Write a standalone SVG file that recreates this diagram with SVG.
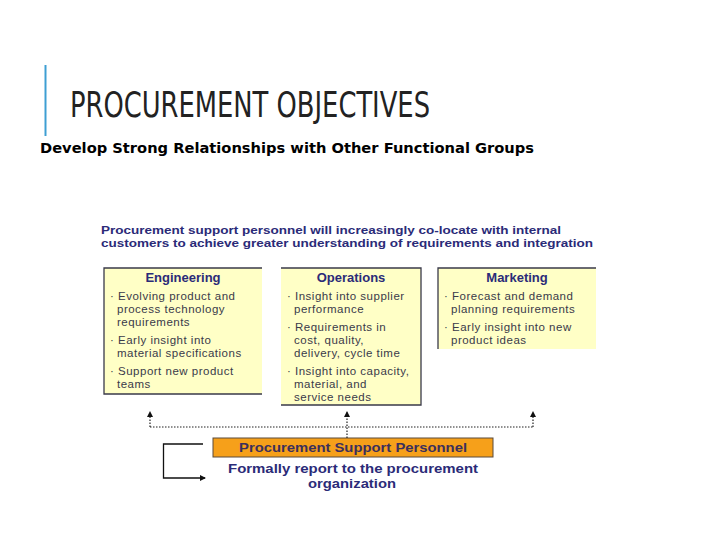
<svg xmlns="http://www.w3.org/2000/svg" width="720" height="540" viewBox="0 0 720 540">
<style>
.box{fill:#FFFFC6;stroke:none}
.edge{stroke:#3a3a4a;stroke-width:1.3;fill:none}
.hdr{font-family:"Liberation Sans",Arial,sans-serif;font-weight:bold;font-size:11.5px;fill:#2B2B78}
.head{font-family:"Liberation Sans",Arial,sans-serif;font-weight:bold;font-size:13px;fill:#2B2B78;text-anchor:middle}
.bul{font-family:"Liberation Sans",Arial,sans-serif;font-size:11.5px;letter-spacing:0.5px;fill:#3a3a4a}
.dot{stroke:#222;stroke-width:1.2;stroke-dasharray:1.5 1.5;fill:none}
</style>
<defs>
<marker id="ah" viewBox="0 0 6 6" refX="5" refY="3" markerWidth="6" markerHeight="6" orient="auto" markerUnits="userSpaceOnUse">
<path d="M0,0 L6,3 L0,6 z" fill="#111"/>
</marker>
</defs>
<rect width="720" height="540" fill="#fff"/>
<g id="title">
<line x1="45.5" y1="65" x2="45.5" y2="136" stroke="#3E9FD3" stroke-width="2"/>
<text x="70" y="117" font-family="DejaVu Sans Condensed,'DejaVu Sans',sans-serif" font-stretch="condensed" font-size="36" fill="#222" textLength="360" lengthAdjust="spacingAndGlyphs">PROCUREMENT OBJECTIVES</text>
<text x="40" y="153" font-family="'DejaVu Sans',sans-serif" font-weight="bold" font-size="14.5" fill="#000" textLength="494" lengthAdjust="spacingAndGlyphs">Develop Strong Relationships with Other Functional Groups</text>
</g>
<g id="intro">
<text class="hdr" x="101" y="234" textLength="460" lengthAdjust="spacingAndGlyphs">Procurement support personnel will increasingly co-locate with internal</text>
<text class="hdr" x="101" y="247" textLength="492" lengthAdjust="spacingAndGlyphs">customers to achieve greater understanding of requirements and integration</text>
</g>
<g id="engineering">
<rect class="box" x="104" y="268" width="158" height="126"/>
<path class="edge" d="M262,268 H104 V394 H262"/>
<text class="head" x="183" y="282">Engineering</text>
<text class="bul" x="110" y="300">· Evolving product and</text>
<text class="bul" x="117" y="313">process technology</text>
<text class="bul" x="117" y="326">requirements</text>
<text class="bul" x="110" y="344">· Early insight into</text>
<text class="bul" x="117" y="357">material specifications</text>
<text class="bul" x="110" y="375">· Support new product</text>
<text class="bul" x="117" y="388">teams</text>
</g>
<g id="operations">
<rect class="box" x="281" y="268" width="140" height="137"/>
<path class="edge" d="M281,268 H421 V405 H281"/>
<text class="head" x="351" y="282">Operations</text>
<text class="bul" x="287" y="300">· Insight into supplier</text>
<text class="bul" x="294" y="313">performance</text>
<text class="bul" x="287" y="331">· Requirements in</text>
<text class="bul" x="294" y="344">cost, quality,</text>
<text class="bul" x="294" y="357">delivery, cycle time</text>
<text class="bul" x="287" y="375">· Insight into capacity,</text>
<text class="bul" x="294" y="388">material, and</text>
<text class="bul" x="294" y="401">service needs</text>
</g>
<g id="marketing">
<rect class="box" x="438" y="268" width="158" height="81"/>
<path class="edge" d="M596,268 H438 V349"/>
<text class="head" x="517" y="282">Marketing</text>
<text class="bul" x="444" y="300">· Forecast and demand</text>
<text class="bul" x="451" y="313">planning requirements</text>
<text class="bul" x="444" y="331">· Early insight into new</text>
<text class="bul" x="451" y="344">product ideas</text>
</g>
<g id="support">
<rect x="213" y="438" width="280" height="19" fill="#F6A01A" stroke="#5a4a3a" stroke-width="1"/>
<text x="239" y="452" font-family="'Liberation Sans',Arial,sans-serif" font-weight="bold" font-size="13" fill="#3B2F5C" textLength="228" lengthAdjust="spacingAndGlyphs">Procurement Support Personnel</text>
<text x="228" y="473" font-family="'Liberation Sans',Arial,sans-serif" font-weight="bold" font-size="13.5" fill="#2B2B78" textLength="250" lengthAdjust="spacingAndGlyphs">Formally report to the procurement</text>
<text x="308" y="488" font-family="'Liberation Sans',Arial,sans-serif" font-weight="bold" font-size="13.5" fill="#2B2B78" textLength="88" lengthAdjust="spacingAndGlyphs">organization</text>
</g>
<g id="connectors">
<path class="dot" d="M150,427 H533"/>
<path class="dot" d="M150,427 V412" marker-end="url(#ah)"/>
<path class="dot" d="M347,438 V412" marker-end="url(#ah)"/>
<path class="dot" d="M533,427 V412" marker-end="url(#ah)"/>
<path d="M203,444 H163.5 V478 H205" fill="none" stroke="#111" stroke-width="1.3" marker-end="url(#ah)"/>
</g>
</svg>
